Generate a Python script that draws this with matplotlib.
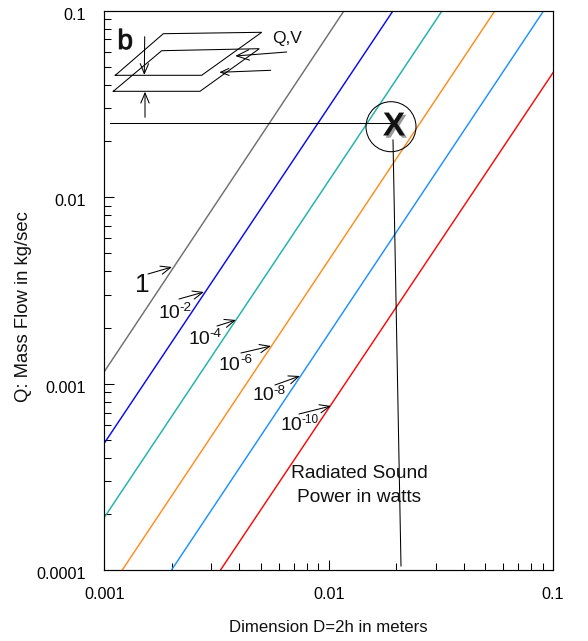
import matplotlib
matplotlib.use('Agg')
import matplotlib.pyplot as plt
from matplotlib.lines import Line2D
from matplotlib.patches import Circle, FancyArrowPatch
from matplotlib.transforms import Affine2D
import matplotlib.patheffects as pe
from matplotlib.ticker import FixedLocator, FixedFormatter, NullFormatter

plt.rcParams['font.family'] = ['Liberation Sans', 'DejaVu Sans']

# D (m) and Q (kg/s) end points of each constant-power line
gray_d = [0.001, 0.01173];   gray_q = [0.00116, 0.1]
blue_d = [0.001, 0.0194];    blue_q = [0.00048, 0.1]
teal_d = [0.001, 0.0321];    teal_q = [0.000192, 0.1]
orange_d = [0.0012, 0.0552]; orange_q = [0.0001, 0.1]
sky_d = [0.00199, 0.091];    sky_q = [0.0001, 0.1]
red_d = [0.00329, 0.1];      red_q = [0.0001, 0.0464]
x_ticks = [0.001, 0.01, 0.1]
y_ticks = [0.0001, 0.001, 0.01, 0.1]
tick_labels_x = ['0.001', '0.01', '0.1']
tick_labels_y = ['0.0001', '0.001', '0.01', '0.1']

W, H = 588, 641
fig = plt.figure(figsize=(W/100, H/100), dpi=100)
L, R, T, B = 104.3, 553, 10.5, 570.3
ax = fig.add_axes([L/W, 1-B/H, (R-L)/W, (B-T)/H])
ax.set_xscale('log'); ax.set_yscale('log')
ax.set_xlim(0.001, 0.1); ax.set_ylim(0.0001, 0.1)

for d, q, c in [(gray_d, gray_q, '#707070'), (blue_d, blue_q, '#0a0af0'),
                (teal_d, teal_q, '#20b2aa'), (orange_d, orange_q, '#ff8c1e'),
                (sky_d, sky_q, '#1e90ff'), (red_d, red_q, '#fa0a0a')]:
    ax.plot(d, q, color=c, lw=1.05)

ax.xaxis.set_major_locator(FixedLocator(x_ticks))
ax.xaxis.set_major_formatter(FixedFormatter(tick_labels_x))
ax.yaxis.set_major_locator(FixedLocator(y_ticks))
ax.yaxis.set_major_formatter(FixedFormatter(tick_labels_y))
ax.xaxis.set_minor_formatter(NullFormatter()); ax.yaxis.set_minor_formatter(NullFormatter())
ax.tick_params(which='major', direction='in', length=7.2, width=0.75, labelsize=11.6, pad=12)
ax.tick_params(which='minor', direction='in', length=5, width=0.75)
ax.tick_params(axis='y', pad=13)
for s in ax.spines.values():
    s.set_linewidth(0.85)
for lab in ax.get_yticklabels():
    lab.set_transform(lab.get_transform() + Affine2D().translate(0, -3))

px = Affine2D().scale(1, -1).translate(0, H)

def seg(pts, lw=0.75, c='black'):
    xs, ys = zip(*pts)
    fig.add_artist(Line2D(xs, ys, transform=px, color=c, lw=lw, solid_joinstyle='miter'))

def arrow(a, b, ms=12):
    fig.add_artist(FancyArrowPatch(a, b, transform=px, arrowstyle='->,head_length=0.6,head_width=0.25',
                                   mutation_scale=ms, color='black', lw=0.75, shrinkA=0, shrinkB=0))

def label(x, y, s, size, **kw):
    fig.text(x, y, s, transform=px, fontsize=size, ha=kw.pop('ha', 'left'), va=kw.pop('va', 'center'),
             color=kw.pop('color', '#111111'), **kw)

# schematic duct
seg([(115.3, 75.3), (163.3, 33.7), (261.7, 32.3), (201.7, 75.3), (115.3, 75.3)])
seg([(113.3, 91.3), (161.7, 50.7), (259.3, 48.7), (200, 91.3), (113.3, 91.3)])
arrow((144.7, 36.7), (144.3, 75))
arrow((145, 117.3), (145, 91.7))
arrow((286.7, 52), (235.3, 56), 15)
arrow((270.7, 70.3), (219.3, 72.3), 10)
label(117.5, 42, 'b', 20, color='#111111',
      path_effects=[pe.withStroke(linewidth=0.8, foreground='#555555'),
                    pe.Normal()])
label(272, 39, 'Q,V', 12.5)

# operating point
fig.add_artist(Circle((391, 126.7), 25, transform=px, fill=False, ec='black', lw=0.75))
seg([(110, 123.3), (392, 123.3)])
seg([(393, 140), (401, 566)])
label(394, 127, 'X', 24, ha='center', fontweight='bold', color='#111111',
      path_effects=[pe.SimplePatchShadow(offset=(1.6, -1.6), shadow_rgbFace='#808080', alpha=0.8),
                    pe.Normal()])

# curve labels: base, exponent, leader arrow
label(135, 285.5, '1', 19)
arrow((148, 274), (172, 267))
for tx, ty, ex, ex_size, a, b in [
    (158, 313, '-2', 9.7, (179, 299), (204, 292)),
    (188, 339, '-4', 9.7, (217, 326), (236, 320)),
    (219, 365, '-6', 9.7, (241, 353), (271, 346)),
    (252, 396, '-8', 9.7, (275, 385), (300, 376)),
    (280, 425, '-10', 8.5, (299, 414), (331, 406)),
]:
    label(tx, ty, '10', 14)
    label(tx + 21.5, ty - 5, ex, ex_size)
    arrow(a, b)

label(359, 473, 'Radiated Sound', 13.8, ha='center')
label(359, 497, 'Power in watts', 13.8, ha='center')

label(328.5, 628, 'Dimension D=2h in meters', 12.1, ha='center')
label(24, 307, 'Q: Mass Flow in kg/sec', 13.3, ha='center', rotation=90)

fig.savefig('out.png', dpi=100)
